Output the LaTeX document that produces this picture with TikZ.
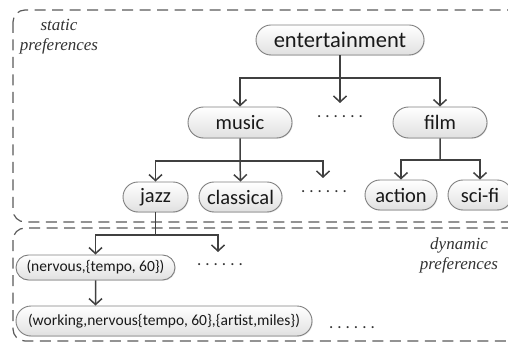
\documentclass[tikz,border=0pt]{standalone}
\usepackage{fontspec}
\setmainfont{Carlito}
\newfontfamily\capfont{Liberation Serif}
\usetikzlibrary{shapes.misc,arrows.meta,shadows}

\definecolor{edge}{HTML}{404040}
\definecolor{rim}{HTML}{7F7F7F}
\definecolor{frame}{HTML}{595959}

% six evenly spaced dots marking omitted siblings
\newcommand\sixdots{\hbox to 46pt{.\hfill.\hfill.\hfill.\hfill.\hfill.}}

\tikzset{
  pill/.style={rounded rectangle, draw=rim, line width=0.9pt,
    top color=white, bottom color=black!12, inner sep=0pt, text=black!90,
    font=\fontsize{20.5}{24}\selectfont,
    drop shadow={opacity=0.2, shadow xshift=0.8pt, shadow yshift=-0.8pt}},
  pillsm/.style={pill, font=\fontsize{15.5}{18}\selectfont},
  link/.style={draw=edge, line width=1.5pt},
  arr/.style={link, -{Straight Barb[length=6pt,width=13pt,line width=1.5pt]}},
  zone/.style={draw=frame, line width=1.2pt, dash pattern=on 11pt off 6.5pt,
    rounded corners=12pt},
  caption/.style={font=\capfont\itshape\fontsize{17}{20}\selectfont,
    align=center, text=black!80},
  dotrow/.style={inner sep=0pt, text=black!80, font=\fontsize{17}{20}\selectfont}
}

\begin{document}
\begin{tikzpicture}[x=1pt,y=-1pt]
\useasboundingbox (0,0) rectangle (508,347);

% the two preference zones
\draw[zone] (13,10) rectangle (540,222);
\draw[zone] (13,228) rectangle (540,341);

\node[caption] (stat) at (59,37) {static\\preferences};
\node[caption] (dyn) at (459,255) {dynamic\\preferences};

% static preference tree
\node[pill, minimum width=168pt, minimum height=30pt, font=\fontsize{22.5}{26}\selectfont] (ent) at (340,40) {entertainment};
\node[pill, minimum width=104pt, minimum height=31pt] (music) at (240,122.5) {music};
\node[pill, minimum width=94pt, minimum height=31pt] (film) at (440,122.5) {film};
\node[dotrow] (d1) at (340,117) {\sixdots};

\node[pill, minimum width=65pt, minimum height=30pt] (jazz) at (155.5,197) {jazz};
\node[pill, minimum width=83pt, minimum height=30pt] (classical) at (240.5,197) {classical};
\node[dotrow] (d2) at (324,192) {\sixdots};
\node[pill, minimum width=72pt, minimum height=30pt] (action) at (401,195) {action};
\node[pill, minimum width=64pt, minimum height=30pt] (scifi) at (480,195) {sci-fi};

% dynamic preferences
\node[pillsm, minimum width=159pt, minimum height=25pt] (nerv) at (95.5,267.5) {(nervous,\{tempo, 60\})};
\node[dotrow] (d3) at (220,265) {\sixdots};
\node[pillsm, minimum width=296pt, minimum height=30pt] (work) at (164,321) {(working,nervous\{tempo, 60\},\{artist,miles\})};
\node[dotrow] (d4) at (352,328) {\sixdots};

% junctions and open arrow ends
\coordinate (j1) at (340,78);
\coordinate (e1) at (340,103);
\coordinate (j2) at (240,161);
\coordinate (e2) at (323,178);
\coordinate (j3) at (440,160);
\coordinate (j4) at (155.5,235);
\coordinate (e4) at (218,252);

\draw[link] (ent) -- (j1);
\draw[arr] (j1) -| (music.north);
\draw[arr] (j1) -| (film.north);
\draw[arr] (j1) -- (e1);

\draw[link] (music) -- (j2);
\draw[arr] (j2) -| (jazz.north);
\draw[arr] (j2) -- (classical.north);
\draw[arr] (j2) -| (e2);

\draw[link] (film) -- (j3);
\draw[arr] (j3) -| (action.north);
\draw[arr] (j3) -| (scifi.north);

\draw[link] (jazz) -- (j4);
\draw[arr] (j4) -| (nerv.north);
\draw[arr] (j4) -| (e4);

\draw[arr] (nerv) -- (nerv |- work.north);
\end{tikzpicture}
\end{document}
